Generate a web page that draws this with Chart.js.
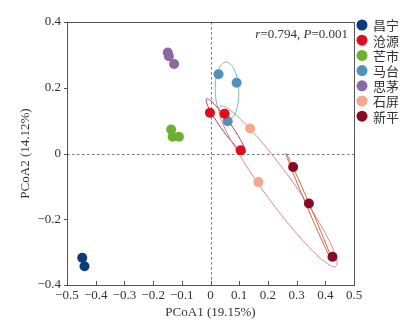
<!DOCTYPE html>
<html>
<head>
<meta charset="utf-8">
<script src="https://cdn.jsdelivr.net/npm/chart.js@4/dist/chart.umd.min.js"></script>
<style>
  html, body { margin: 0; padding: 0; background: #fff; }
  #wrap { width: 412px; height: 328px; }
</style>
</head>
<body>
<div id="wrap"><canvas id="pcoa"></canvas></div>
<script>
// sample scores on PCoA1 / PCoA2, one array per site
const changning = [[-0.447, -0.317], [-0.439, -0.343]];
const cangyuan  = [[-0.002, 0.124], [0.049, 0.121], [0.105, 0.010]];
const mangshi   = [[-0.137, 0.073], [-0.132, 0.051], [-0.110, 0.051]];
const matai     = [[0.028, 0.241], [0.091, 0.215], [0.060, 0.098]];
const simao     = [[-0.149, 0.307], [-0.145, 0.296], [-0.127, 0.272]];
const shiping   = [[0.138, 0.076], [0.167, -0.087]];
const xinping   = [[0.288, -0.041], [0.343, -0.152], [0.425, -0.314]];

const siteNames  = ['昌宁', '沧源', '芒市', '马台', '思茅', '石屏', '新平'];
const siteData   = [changning, cangyuan, mangshi, matai, simao, shiping, xinping];
const siteColors = ['#0d3b7c', '#dc0f1c', '#6cb030', '#5590bb', '#8c68a6', '#f6a88e', '#8a0a26'];

// confidence ellipses: centre, half-axis vectors (data units)
const ellipseCentre = [[0.0575, 0.190], [0.053, 0.084], [0.235, -0.100], [0.3425, -0.162]];
const ellipseAxisU  = [[-0.004, 0.088], [0.067, -0.082], [0.202, -0.243], [0.0795, -0.162]];
const ellipseAxisV  = [[0.041, 0.002], [0.014, 0.0088], [0.041, 0.026], [0.005, 0.0018]];
const ellipseColors = ['#72b8a2', '#a4355a', '#d9878f', '#d5603c'];

const xTicks = [-0.5, -0.4, -0.3, -0.2, -0.1, 0, 0.1, 0.2, 0.3, 0.4, 0.5];
const yTicks = [-0.4, -0.2, 0, 0.2, 0.4];

const fmt = v => {
  const r = Math.round(v * 10) / 10;
  if (r === 0) return '0';
  return (r < 0 ? '\u2212' : '') + Math.abs(r).toFixed(1);
};

const serif = 'Liberation Serif, Times New Roman, serif';

const decor = {
  id: 'decor',
  beforeDatasetsDraw(chart) {
    const {ctx, chartArea: a, scales: {x, y}} = chart;
    ctx.save();
    // dashed zero lines
    ctx.strokeStyle = '#777';
    ctx.lineWidth = 1;
    ctx.setLineDash([2.5, 2.5]);
    const x0 = Math.round(x.getPixelForValue(0)) + 0.5;
    const y0 = Math.round(y.getPixelForValue(0)) + 0.5;
    ctx.beginPath();
    ctx.moveTo(x0, a.top); ctx.lineTo(x0, a.bottom);
    ctx.moveTo(a.left, y0); ctx.lineTo(a.right, y0);
    ctx.stroke();
    ctx.setLineDash([]);
    // ellipses
    ellipseCentre.forEach((c, i) => {
      const u = ellipseAxisU[i], v = ellipseAxisV[i];
      ctx.strokeStyle = ellipseColors[i];
      ctx.lineWidth = 1;
      ctx.beginPath();
      for (let k = 0; k <= 120; k++) {
        const t = k / 120 * Math.PI * 2;
        const px = x.getPixelForValue(c[0] + u[0] * Math.cos(t) + v[0] * Math.sin(t));
        const py = y.getPixelForValue(c[1] + u[1] * Math.cos(t) + v[1] * Math.sin(t));
        if (k === 0) ctx.moveTo(px, py); else ctx.lineTo(px, py);
      }
      ctx.stroke();
    });
    ctx.restore();
  },
  afterDraw(chart) {
    const {ctx, chartArea: a, scales: {x, y}} = chart;
    ctx.save();
    // frame
    ctx.strokeStyle = '#555';
    ctx.lineWidth = 1;
    ctx.strokeRect(Math.round(a.left) + 0.5, Math.round(a.top) + 0.5,
                   Math.round(a.right - a.left), Math.round(a.bottom - a.top));
    // x ticks point inward, y ticks outward
    ctx.beginPath();
    xTicks.forEach(t => {
      const px = Math.round(x.getPixelForValue(t)) + 0.5;
      ctx.moveTo(px, a.bottom); ctx.lineTo(px, a.bottom - 4);
    });
    yTicks.forEach(t => {
      const py = Math.round(y.getPixelForValue(t)) + 0.5;
      ctx.moveTo(a.left, py); ctx.lineTo(a.left - 3, py);
    });
    ctx.stroke();

    // axis titles
    ctx.fillStyle = '#333';
    ctx.font = '13px ' + serif;
    ctx.textAlign = 'center';
    ctx.textBaseline = 'middle';
    ctx.fillText('PCoA1 (19.15%)', (a.left + a.right) / 2, 313);
    ctx.save();
    ctx.translate(26, (a.top + a.bottom) / 2);
    ctx.rotate(-Math.PI / 2);
    ctx.fillText('PCoA2 (14.12%)', 0, 0);
    ctx.restore();

    // r / P annotation
    ctx.textAlign = 'left';
    ctx.textBaseline = 'alphabetic';
    const parts = [['r', true], ['=0.794, ', false], ['P', true], ['=0.001', false]];
    let w = 0;
    parts.forEach(([s, it]) => { ctx.font = (it ? 'italic ' : '') + '13px ' + serif; w += ctx.measureText(s).width; });
    let cx = a.right - 6 - w;
    parts.forEach(([s, it]) => {
      ctx.font = (it ? 'italic ' : '') + '13px ' + serif;
      ctx.fillText(s, cx, 37.5);
      cx += ctx.measureText(s).width;
    });

    // legend
    ctx.font = '13px "Noto Sans CJK SC", sans-serif';
    ctx.textBaseline = 'middle';
    siteNames.forEach((n, i) => {
      const ly = 25 + i * 15.2;
      ctx.fillStyle = siteColors[i];
      ctx.beginPath();
      ctx.arc(362, ly, 5.5, 0, Math.PI * 2);
      ctx.fill();
      ctx.fillStyle = '#333';
      ctx.fillText(n, 373, ly + 0.5);
    });
    ctx.restore();
  }
};

new Chart(document.getElementById('pcoa'), {
  type: 'scatter',
  data: {
    datasets: siteNames.map((n, i) => ({
      label: n,
      data: siteData[i].map(p => ({x: p[0], y: p[1]})),
      backgroundColor: siteColors[i],
      borderWidth: 0,
      pointRadius: 5,
      pointHoverRadius: 5
    }))
  },
  options: {
    responsive: true,
    maintainAspectRatio: false,
    animation: false,
    layout: { padding: { top: 22, right: 58, left: 0, bottom: 0 } },
    plugins: { legend: { display: false }, tooltip: { enabled: false } },
    scales: {
      x: {
        min: -0.5, max: 0.5,
        afterBuildTicks: s => { s.ticks = xTicks.map(v => ({value: v})); },
        afterFit: s => { s.height = 43; },
        grid: { display: false, drawTicks: false },
        border: { display: false },
        ticks: {
          callback: v => fmt(v),
          autoSkip: false, maxRotation: 0, padding: 3,
          color: '#333', font: { family: serif, size: 13 }
        }
      },
      y: {
        min: -0.4, max: 0.4,
        afterBuildTicks: s => { s.ticks = yTicks.map(v => ({value: v})); },
        afterFit: s => { s.width = 67; },
        grid: { display: false, drawTicks: false },
        border: { display: false },
        ticks: {
          callback: v => fmt(v),
          padding: 6,
          color: '#333', font: { family: serif, size: 13 }
        }
      }
    }
  },
  plugins: [decor]
});
</script>
</body>
</html>
